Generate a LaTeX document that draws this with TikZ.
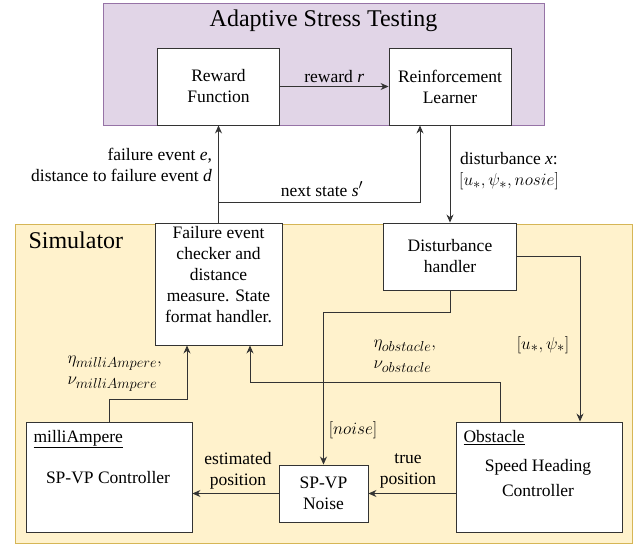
\documentclass[tikz,border=0pt]{standalone}
\usepackage{fontspec}
\setmainfont{Liberation Serif}
\DeclareMathSizes{17.5}{18.5}{14.8}{11}
\usetikzlibrary{positioning, arrows.meta, calc}
\definecolor{astfill}{HTML}{E1D5E7}
\definecolor{astline}{HTML}{9673A6}
\definecolor{simfill}{HTML}{FFF2CC}
\definecolor{simline}{HTML}{D6B656}
\tikzset{
  blk/.style={draw=black!80, fill=white, line width=0.9pt, inner sep=0pt, align=center},
  arr/.style={draw=black!80, line width=0.9pt, -{Stealth[length=8pt, width=7pt]}},
  lbl/.style={inner sep=3pt},
}

\begin{document}
\begin{tikzpicture}[x=1pt, y=-1pt, font=\fontsize{17.5}{21}\selectfont]
  \useasboundingbox (0,0) rectangle (638,544);
  % frames
  \node[draw=astline, fill=astfill, line width=1pt, inner sep=0pt, minimum width=441pt, minimum height=122pt] (ast) at (323.5,64) {};
  \node[draw=simline, fill=simfill, line width=1pt, inner sep=0pt, minimum width=617pt, minimum height=319pt] (sim) at (323.5,383.5) {};
  \node[font=\fontsize{24}{28}\selectfont] (asttitle) at (323.5,21) {Adaptive Stress Testing};
  \node[anchor=west, font=\fontsize{24}{28}\selectfont] (simtitle) at (25,240) {Simulator};
  % blocks
  \node[blk, minimum width=122pt, minimum height=77pt] (rf) at (218.5,86.5) {Reward\\Function};
  \node[blk, minimum width=122pt, minimum height=77pt] (rl) at (450,86.5) {Reinforcement\\Learner};
  \node[blk, minimum width=127pt, minimum height=122pt] (fail) at (218.5,284) {};
  \node[align=center] (failtxt) at (218.5,275) {Failure event\\checker and\\distance\\measure. State\\format handler.};
  \node[blk, minimum width=133pt, minimum height=67pt] (dh) at (450,256.5) {Disturbance\\handler};
  \node[blk, minimum width=89pt, minimum height=57pt] (noise) at (323.5,493.5) {SP-VP\\Noise};
  \node[blk, minimum width=166pt, minimum height=110pt] (milli) at (109,477) {};
  \node[anchor=west] (millititle) at (30,439) {\underline{milliAmpere}};
  \node (millitxt) at (108,478) {SP-VP Controller};
  \node[blk, minimum width=166pt, minimum height=110pt] (obst) at (539,477) {};
  \node[anchor=west] (obsttitle) at (460,438) {\underline{Obstacle}};
  \node[align=center, font=\fontsize{17.5}{25}\selectfont] (obsttxt) at (538,478.5) {Speed Heading\\Controller};
  % connectors
  \draw[arr] (rf.east) -- (rl.west) node[lbl, midway, above] (rwd) {reward \textit{r}};
  \draw[arr] (fail.north) -- (rf.south);
  \coordinate (ns) at (218.5,202);
  \draw[arr] (ns) -| ([xshift=-30pt]rl.south);
  \node (nslbl) at (322,189) {next state \textit{s}$'$};
  \node[anchor=east, align=right] (faillbl) at (215.5,165) {failure event \textit{e},\\distance to failure event \textit{d}};
  \draw[arr] (rl.south) -- (dh.north);
  \node[align=center] (dstlbl) at (509,171) {disturbance \textit{x}:\\$[u_*, \psi_*, nosie]$};
  \draw[arr] (dh.east) -| ([xshift=41pt]obst.north);
  \node (uplbl) at (543,345) {$[u_*, \psi_*]$};
  \draw[arr] (dh.south) -- ++(0,22) -| (noise.north);
  \node (noiselbl) at (353,430) {$[noise]$};
  \draw[arr] ([xshift=-39pt]obst.north) -- ++(0,-39) -| ([xshift=31.5pt]fail.south);
  \node[anchor=west, align=left] (obstlbl) at (370,356) {$\eta_{obstacle},$\\$\nu_{obstacle}$};
  \draw[arr] (milli.north) -- ++(0,-22) -| ([xshift=-31.5pt]fail.south);
  \node[anchor=west, align=left] (millilbl) at (64,374) {$\eta_{milliAmpere},$\\$\nu_{milliAmpere}$};
  \draw[arr] (obst.west |- noise.east) -- (noise.east);
  \node[align=center] (truelbl) at (408,471) {true\\position};
  \draw[arr] (noise.west) -- (milli.east |- noise.west);
  \node[align=center] (estlbl) at (238,471) {estimated\\position};
\end{tikzpicture}
\end{document}
